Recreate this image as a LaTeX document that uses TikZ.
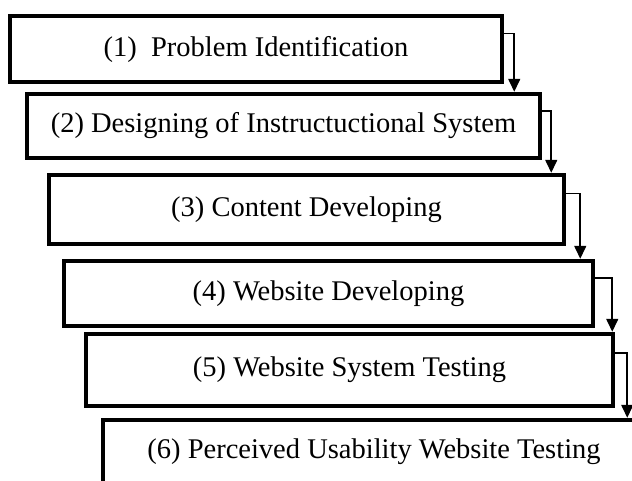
\documentclass[tikz,border=0pt]{standalone}
\usepackage{fontspec}
\setmainfont{Liberation Serif}
\usetikzlibrary{positioning,calc,arrows.meta}

\begin{document}
\begin{tikzpicture}[x=1pt,y=-1pt,font=\fontsize{28.5}{32}\selectfont]
    \tikzstyle{stage} = [draw,rectangle,line width=4.5pt,inner sep=0pt]
    \tikzstyle{flow} = [line width=1.6pt,-{Triangle[width=12pt,length=13pt]}]
      \useasboundingbox (0,0) rectangle (632,480);
      \clip (0,0) rectangle (632,480);
      \node[stage,minimum width=492pt,minimum height=66pt] (problem) at (256,49) {(1)\ \ Problem Identification};
      \node[stage,minimum width=513pt,minimum height=64pt] (design) at (283.5,126) {(2) Designing of Instructuctional System};
      \node[stage,minimum width=515pt,minimum height=69pt] (content) at (306.5,209.5) {(3) Content Developing};
      \node[stage,minimum width=529pt,minimum height=65pt] (website) at (328.5,293.5) {(4) Website Developing};
      \node[stage,minimum width=527pt,minimum height=72pt] (testing) at (349.5,370) {(5) Website System Testing};
      \node[stage,minimum width=542pt,minimum height=64pt] (usability) at (374,452) {(6) Perceived Usability Website Testing};
      % step to step, out of the right side and down onto the next box
      \foreach \a/\b/\off in {problem/design/10,design/content/9,content/website/14,website/testing/17,testing/usability/12}
        \draw[flow] ($ (\a.north east)!.28!(\a.south east) $) -| ([xshift=\off pt]\a.east |- \b.north);
\end{tikzpicture}
\end{document}
